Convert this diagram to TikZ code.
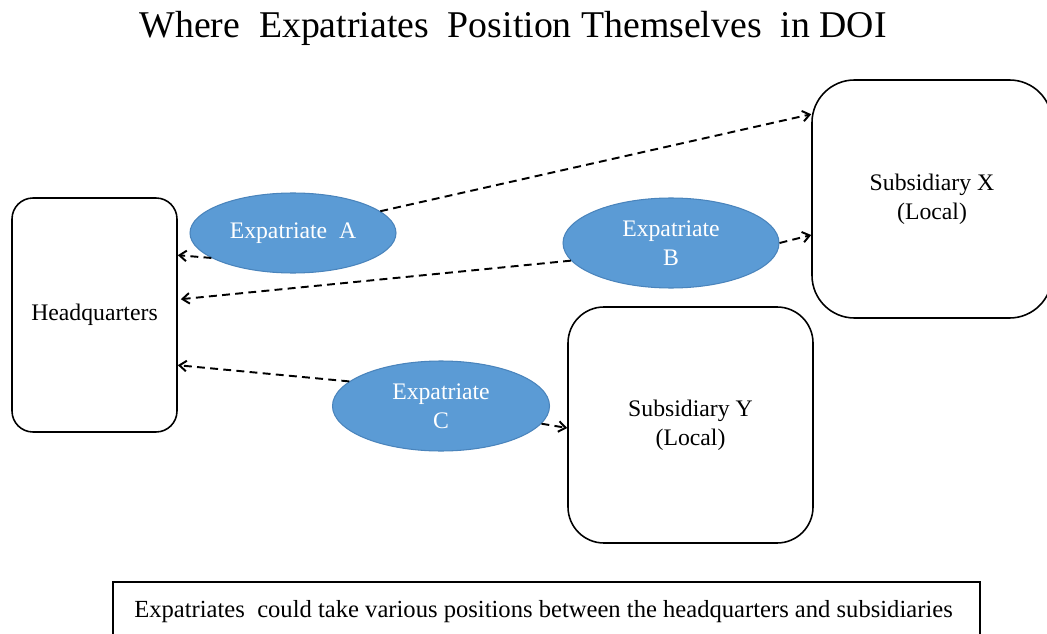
\documentclass[tikz,border=0pt]{standalone}
\usepackage{fontspec}
\setmainfont{Liberation Serif}
\usetikzlibrary{shapes.geometric,arrows.meta,calc}

\definecolor{expfill}{HTML}{5B9BD5}
\definecolor{expline}{HTML}{4A84BC}

\tikzset{
  unitbox/.style={draw=black, line width=0.9pt, fill=white, align=center,
    font=\fontsize{13.5}{16.5}\selectfont, inner sep=0pt},
  expat/.style={ellipse, draw=expline, line width=0.6pt, fill=expfill,
    text=white, align=center, font=\fontsize{13.5}{16.5}\selectfont, inner sep=0pt},
  link/.style={dashed, dash pattern=on 4.5pt off 3pt, line width=1.1pt,
    -{Straight Barb[length=4pt,width=6pt]}}
}

\begin{document}
\begin{tikzpicture}
\useasboundingbox (0,0) rectangle (20.94,-12.68);
\clip (0,0) rectangle (20.94,-12.68);

% title
\node (title) at (10.26,-0.56) {\fontsize{21.5}{26}\selectfont Where\ \ Expatriates\ \ Position Themselves\ \ in DOI};

% organisational units
\node[unitbox, rounded corners=0.42cm, minimum width=3.3cm, minimum height=4.68cm]
  (hq) at (1.89,-6.3) {Headquarters};
\node[unitbox, rounded corners=0.85cm, minimum width=4.8cm, minimum height=4.76cm]
  (subx) at (18.64,-3.98) {Subsidiary X\\(Local)};
\node[unitbox, rounded corners=0.72cm, minimum width=4.9cm, minimum height=4.72cm]
  (suby) at (13.81,-8.5) {Subsidiary Y\\(Local)};

% expatriates
\node[expat, minimum width=4.12cm, minimum height=1.6cm] (ea) at (5.86,-4.66) {Expatriate\ \ A};
\node[expat, minimum width=4.32cm, minimum height=1.8cm] (eb) at (13.42,-4.86) {Expatriate\\B};
\node[expat, minimum width=4.34cm, minimum height=1.8cm] (ec) at (8.82,-8.12) {Expatriate\\C};

% positions between headquarters and subsidiaries
\draw[link] (ea.14) -- ($(subx.north west)+(0,-0.7)$);
\draw[link] (ea.197) -- ($(hq.north east)+(0,-1.16)$);
\draw[link] (eb.190) -- ($(hq.north east)+(0.06,-2.04)$);
\draw[link] (eb.east) -- ($(subx.west)+(0,-0.72)$);
\draw[link] (ec.165) -- ($(hq.north east)+(0,-3.36)$);
\draw[link] (ec.-10) -- ($(suby.west)+(0,-0.06)$);

% caption box
\draw[line width=0.9pt] (2.26,-13.2) |- (19.6,-11.64) -- (19.6,-13.2);
\node (note) at (10.87,-12.24) {\fontsize{14}{17}\selectfont Expatriates\ \ could take various positions between the headquarters and subsidiaries};
\end{tikzpicture}
\end{document}
